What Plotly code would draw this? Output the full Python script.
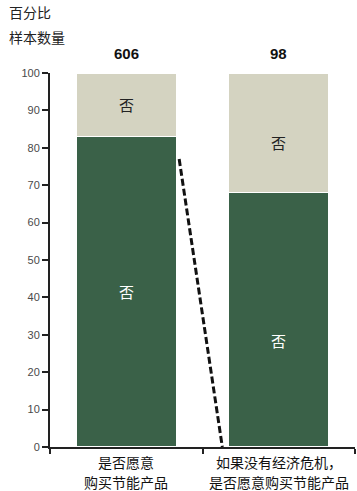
import plotly.graph_objects as go

# Share of respondents (percent) and sample sizes
categories = ["是否愿意<br>购买节能产品", "如果没有经济危机，<br>是否愿意购买节能产品"]
dark_values = [83, 68]
light_values = [17, 32]
sample_sizes = ["606", "98"]
segment_labels = ["否", "否"]
y_ticks = [0, 10, 20, 30, 40, 50, 60, 70, 80, 90, 100]

DARK = "#3a6148"
LIGHT = "#d4d3c1"
CJK = "Noto Sans CJK SC"

fig = go.Figure()
for vals, col in ((dark_values, DARK), (light_values, LIGHT)):
    fig.add_trace(go.Bar(x=categories, y=vals,
                         marker=dict(color=col, line=dict(color="white", width=1.5)),
                         width=0.66, hoverinfo="skip"))

annotations = []
# sample size headers above bars
for i, n in enumerate(sample_sizes):
    annotations.append(dict(x=i, y=100, xref="x", yref="y", text=f"<b>{n}</b>", showarrow=False,
                            yshift=20, font=dict(family="Liberation Sans", size=15, color="#111")))

# segment labels (slightly lowered in the second bar)
dark_shift = [0, -5.5]
light_shift = [0, -2.5]
for i in range(len(categories)):
    d, l = dark_values[i], light_values[i]
    annotations.append(dict(x=i, y=d / 2 + dark_shift[i], xref="x", yref="y", text=segment_labels[i],
                            showarrow=False, font=dict(family=CJK, size=15, color="white")))
    annotations.append(dict(x=i, y=d + l / 2 + light_shift[i], xref="x", yref="y", text=segment_labels[i],
                            showarrow=False, font=dict(family=CJK, size=15, color="#222")))

# category labels, one annotation per line for wider line spacing
line_y = [-0.04, -0.094]
for i, cat in enumerate(categories):
    for j, line in enumerate(cat.split("<br>")):
        annotations.append(dict(x=i, y=line_y[j], xref="x", yref="paper", text=line, showarrow=False,
                                yanchor="middle", font=dict(family=CJK, size=14, color="#111")))

# axis header
annotations.append(dict(x=-0.14, y=1.163, xref="paper", yref="paper", xanchor="left", yanchor="middle",
                        text="百分比", showarrow=False, font=dict(family=CJK, size=14, color="#222")))
annotations.append(dict(x=-0.14, y=1.096, xref="paper", yref="paper", xanchor="left", yanchor="middle",
                        text="样本数量", showarrow=False, font=dict(family=CJK, size=14, color="#222")))

fig.update_layout(
    annotations=annotations,
    barmode="stack",
    width=357, height=491,
    margin=dict(l=50, r=2, t=73, b=44),
    paper_bgcolor="white", plot_bgcolor="white",
    showlegend=False,
    shapes=[dict(type="line", xref="x", yref="y", x0=0.347, y0=77, x1=0.63, y1=0,
                 line=dict(color="#111", width=3, dash="7px,3px"))],
    xaxis=dict(showline=True, linecolor="#222", linewidth=2, layer="below traces",
               ticks="outside", tickson="boundaries", ticklen=5, tickcolor="#222", tickwidth=1.5,
               range=[-0.5, 1.5], automargin=False, showticklabels=False, showgrid=False),
    yaxis=dict(range=[0, 100], tickvals=y_ticks, showline=True, linecolor="#222", linewidth=2,
               ticks="outside", ticklen=6, tickcolor="#222", tickwidth=1.5, showgrid=False,
               zeroline=False, automargin=False,
               tickfont=dict(family="Liberation Sans", size=11, color="#4a4a4a")),
)

fig.write_html("out.html")
